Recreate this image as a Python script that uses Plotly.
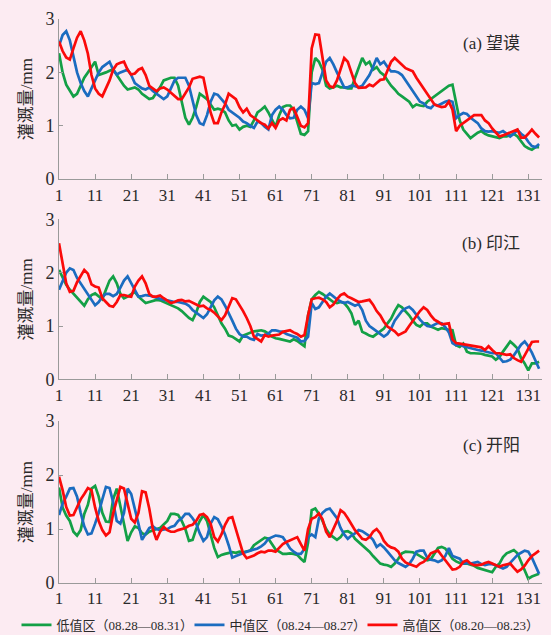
import plotly.graph_objects as go
from plotly.subplots import make_subplots

days = list(range(1, 135))
tick_vals = [1, 11, 21, 31, 41, 51, 61, 71, 81, 91, 101, 111, 121, 131]
tick_text = [str(v) for v in tick_vals]

series_names = ["低值区（08.28—08.31）", "中值区（08.24—08.27）", "高值区（08.20—08.23）"]
series_colors = ["#13a046", "#1b6cc0", "#fb0a0a"]
panel_labels = ["(a) 望谟", "(b) 印江", "(c) 开阳"]
y_title = "灌溉量/mm"

# ---- (a) 望谟 ----
a_low = [2.36, 2.0, 1.77, 1.65, 1.55, 1.6, 1.75, 1.9, 2.0, 2.1,
         2.2, 1.95, 1.97, 2.0, 2.03, 2.06, 1.95, 1.85, 1.75, 1.68,
         1.7, 1.72, 1.68, 1.6, 1.55, 1.5, 1.52, 1.62, 1.72, 1.85,
         1.88, 1.9, 1.9, 1.75, 1.45, 1.15, 1.02, 1.15, 1.35, 1.6,
         1.55, 1.5, 1.4, 1.3, 1.32, 1.3, 1.25, 1.1, 1.0, 1.02,
         0.93, 0.98, 1.0, 0.98, 1.1, 1.25, 1.3, 1.36, 1.25, 1.1,
         0.98, 1.2, 1.35, 1.38, 1.38, 1.3, 1.05, 0.85, 0.83, 0.9,
         2.0, 2.27, 2.2, 2.05, 1.75, 1.7, 1.72, 1.75, 1.72, 1.72,
         1.7, 1.7, 1.9, 2.1, 2.27, 2.15, 2.2, 2.05, 2.1, 2.0,
         1.95, 1.85, 1.75, 1.68, 1.6, 1.55, 1.5, 1.45, 1.35, 1.4,
         1.38, 1.37, 1.45, 1.5, 1.55, 1.6, 1.65, 1.7, 1.75, 1.77,
         1.4, 1.1, 0.93, 0.85, 0.77, 0.82, 0.87, 0.9, 0.85, 0.82,
         0.8, 0.78, 0.77, 0.8, 0.8, 0.82, 0.85, 0.8, 0.7, 0.62,
         0.58, 0.55, 0.6, 0.6]
a_mid = [2.5, 2.7, 2.77, 2.6, 2.3, 2.0, 1.8, 1.65, 1.55, 1.7,
         1.85, 2.0, 2.1, 2.15, 2.2, 2.05, 1.96, 2.0, 2.02, 2.05,
         1.95, 1.8, 1.75, 1.7, 1.68, 1.72, 1.65, 1.6, 1.55, 1.5,
         1.55, 1.7, 1.85, 1.9, 1.9, 1.9, 1.75, 1.45, 1.2, 1.05,
         1.02, 1.2, 1.45, 1.6, 1.58, 1.5, 1.42, 1.3, 1.25, 1.2,
         1.15, 1.08, 1.05, 1.0, 0.96, 1.08, 1.05, 0.98, 0.93, 1.2,
         1.3, 1.36, 1.3, 1.2, 1.14, 1.15, 1.3, 1.36, 1.3, 1.14,
         1.8, 1.78, 1.8, 2.0, 2.2, 2.27, 2.15, 2.0, 1.85, 1.72,
         1.72, 1.75, 1.74, 1.72, 1.75, 1.85, 1.95, 2.1, 2.27, 2.15,
         2.2, 2.1, 2.02, 2.02, 2.0, 1.95, 1.85, 1.75, 1.65, 1.55,
         1.45, 1.42, 1.35, 1.33, 1.4, 1.38, 1.42, 1.45, 1.47, 1.45,
         1.14, 1.2, 1.24, 1.22, 1.15, 1.1, 1.05, 0.95, 0.9, 0.89,
         0.9, 0.88, 0.87, 0.9, 0.85, 0.8, 0.85, 0.92, 0.85, 0.8,
         0.7, 0.62, 0.6, 0.66]
a_high = [2.58, 2.4, 2.28, 2.24, 2.45, 2.65, 2.77, 2.6, 2.35, 1.95,
          1.7, 1.6, 1.55, 1.7, 1.85, 2.05, 2.15, 2.18, 2.2, 2.05,
          1.96, 1.98, 2.05, 2.08, 1.95, 1.75, 1.7, 1.65, 1.7, 1.72,
          1.68, 1.62, 1.55, 1.5, 1.5, 1.6, 1.72, 1.88, 1.9, 1.92,
          1.9, 1.6, 1.25, 1.05, 1.05, 1.25, 1.4, 1.6, 1.55, 1.5,
          1.35, 1.25, 1.32, 1.2, 1.15, 1.1, 1.05, 1.02, 0.95, 1.05,
          0.96, 1.1, 1.14, 1.1, 1.3, 1.33, 1.15, 1.0, 0.97, 1.05,
          2.45, 2.71, 2.7, 2.3, 1.85, 1.74, 1.72, 1.85, 2.05, 2.27,
          2.2, 2.0, 1.8, 1.71, 1.71, 1.72, 1.77, 1.74, 1.8, 1.86,
          1.87, 2.05, 2.2, 2.27, 2.2, 2.15, 2.08, 2.05, 2.02, 1.9,
          1.8, 1.72, 1.6, 1.5, 1.4, 1.37, 1.35, 1.36, 1.45, 1.3,
          0.9, 1.0, 1.05, 1.1, 1.15, 1.2, 1.2, 1.2, 1.1, 1.05,
          0.95, 0.88, 0.8, 0.82, 0.85, 0.87, 0.9, 0.93, 0.78, 0.78,
          0.85, 0.93, 0.85, 0.78]

# ---- (b) 印江 ----
b_low = [2.05, 1.9, 1.77, 1.68, 1.6, 1.52, 1.45, 1.38, 1.5, 1.58,
         1.61, 1.55, 1.5, 1.68, 1.85, 1.93, 1.8, 1.6, 1.52, 1.55,
         1.6, 1.64, 1.55, 1.48, 1.43, 1.45, 1.47, 1.49, 1.48, 1.45,
         1.42, 1.38, 1.36, 1.33, 1.28, 1.22, 1.15, 1.11, 1.25, 1.45,
         1.55, 1.5, 1.45, 1.35, 1.2, 1.05, 0.95, 0.82, 0.8, 0.75,
         0.71, 0.82, 0.85, 0.88, 0.9, 0.91, 0.92, 0.9, 0.86, 0.8,
         0.77, 0.76, 0.74, 0.72, 0.71, 0.75, 0.72, 0.67, 0.62, 1.2,
         1.5, 1.58, 1.64, 1.6, 1.55, 1.49, 1.45, 1.43, 1.45, 1.43,
         1.35, 1.24, 1.02, 1.1, 0.89, 0.86, 0.82, 0.8, 0.85, 0.89,
         0.95, 1.05, 1.14, 1.28, 1.39, 1.35, 1.28, 1.2, 1.1, 1.02,
         0.99, 1.05, 1.05, 0.99, 0.96, 0.93, 0.96, 0.94, 0.93, 0.92,
         0.64, 0.61, 0.67, 0.52, 0.49, 0.49, 0.49, 0.48, 0.46, 0.44,
         0.43, 0.37, 0.42, 0.52, 0.62, 0.71, 0.65, 0.58, 0.4, 0.3,
         0.17, 0.3, 0.3, 0.33]
b_mid = [1.68, 1.85, 2.0, 2.08, 2.05, 1.9, 1.8, 1.7, 1.6, 1.5,
         1.39, 1.45, 1.55, 1.6, 1.6, 1.56, 1.6, 1.72, 1.85, 1.93,
         1.8, 1.65, 1.55, 1.56, 1.58, 1.57, 1.55, 1.52, 1.5, 1.49,
         1.48, 1.46, 1.45, 1.45, 1.43, 1.42, 1.38, 1.3, 1.25, 1.2,
         1.15, 1.22, 1.35, 1.48, 1.55, 1.5, 1.38, 1.25, 1.1, 0.95,
         0.85, 0.8, 0.8, 0.76, 0.74, 0.85, 0.82, 0.83, 0.86, 0.92,
         0.92, 0.9, 0.89, 0.85, 0.83, 0.81, 0.78, 0.71, 0.72, 0.8,
         1.43, 1.32, 1.35, 1.45, 1.55, 1.61, 1.55, 1.5, 1.46, 1.43,
         1.45, 1.42, 1.38, 1.41, 1.3, 1.1, 1.0, 0.95, 0.9, 0.84,
         0.8, 0.85, 0.95, 1.1, 1.2, 1.28, 1.33, 1.36, 1.3, 1.2,
         1.12, 1.05, 1.0, 0.99, 1.02, 1.06, 1.05, 0.98, 0.88, 0.68,
         0.64, 0.66, 0.62, 0.6, 0.58, 0.57, 0.55, 0.54, 0.52, 0.5,
         0.49, 0.49, 0.4, 0.33, 0.34, 0.37, 0.45, 0.55, 0.65, 0.71,
         0.62, 0.5, 0.35, 0.2]
b_high = [2.55, 2.2, 1.8, 1.64, 1.66, 1.82, 1.93, 2.05, 1.98, 1.78,
          1.74, 1.72, 1.52, 1.45, 1.38, 1.36, 1.45, 1.58, 1.58, 1.56,
          1.55, 1.74, 1.85, 1.93, 1.8, 1.6, 1.55, 1.55, 1.57, 1.52,
          1.48, 1.43, 1.45, 1.48, 1.49, 1.46, 1.47, 1.44, 1.4, 1.37,
          1.38, 1.33, 1.3, 1.25, 1.18, 1.11, 1.2, 1.35, 1.52, 1.5,
          1.4, 1.28, 1.15, 1.0, 0.8, 0.75, 0.71, 0.83, 0.8, 0.82,
          0.83, 0.84, 0.89, 0.9, 0.92, 0.88, 0.85, 0.8, 0.83, 1.2,
          1.5, 1.52, 1.53, 1.5, 1.45, 1.35, 1.4, 1.5, 1.58, 1.61,
          1.55, 1.52, 1.49, 1.45, 1.46, 1.48, 1.49, 1.4, 1.28, 1.2,
          1.08, 0.99, 0.95, 0.9, 0.83, 0.86, 0.9, 1.0, 1.1, 1.2,
          1.28, 1.35, 1.3, 1.2, 1.12, 1.08, 1.03, 1.04, 1.05, 0.75,
          0.68, 0.67, 0.66, 0.64, 0.63, 0.63, 0.62, 0.6, 0.55, 0.62,
          0.55, 0.49, 0.49, 0.48, 0.46, 0.47, 0.4, 0.36, 0.33, 0.45,
          0.58, 0.7, 0.71, 0.71]

# ---- (c) 开阳 ----
c_low = [1.77, 1.4, 1.25, 1.15, 0.95, 0.88, 0.98, 1.28, 1.45, 1.75,
         1.8, 1.6, 1.3, 1.14, 1.13, 1.55, 1.75, 1.45, 1.1, 0.78,
         0.94, 1.05, 1.02, 0.92, 0.9, 0.95, 0.98, 1.0, 1.02, 1.08,
         1.15, 1.28, 1.28, 1.26, 1.15, 1.0, 0.78, 0.8, 1.0, 1.15,
         1.26, 1.15, 0.9, 0.65, 0.48, 0.52, 0.54, 0.55, 0.57, 0.56,
         0.58, 0.57, 0.58, 0.6, 0.7, 0.75, 0.8, 0.84, 0.82, 0.72,
         0.62, 0.58, 0.54, 0.54, 0.55, 0.54, 0.52, 0.45, 0.39, 0.75,
         1.35, 1.38, 1.28, 1.15, 1.0, 0.9, 0.85, 0.8, 0.85, 0.95,
         0.96, 0.92, 0.82, 0.76, 0.7, 0.65, 0.58, 0.5, 0.42, 0.36,
         0.34, 0.33, 0.3, 0.36, 0.45, 0.55, 0.58, 0.58, 0.57, 0.54,
         0.5, 0.45, 0.42, 0.44, 0.55, 0.65, 0.67, 0.64, 0.55, 0.45,
         0.4, 0.37, 0.36, 0.36, 0.34, 0.32, 0.28, 0.26, 0.25, 0.22,
         0.2, 0.3, 0.36, 0.48, 0.55, 0.58, 0.61, 0.55, 0.4, 0.24,
         0.08, 0.12, 0.15, 0.17]
c_mid = [1.26, 1.47, 1.6, 1.75, 1.76, 1.6, 1.3, 1.05, 0.9, 0.92,
         1.1, 1.3, 1.55, 1.78, 1.76, 1.5, 1.15, 1.1, 1.3, 1.75,
         1.65, 1.4, 1.1, 0.8, 0.9, 1.02, 1.05, 1.0, 0.98, 0.99,
         1.0, 1.04, 1.06, 1.15, 1.2, 1.28, 1.28, 1.2, 1.1, 0.92,
         0.78, 0.85, 1.1, 1.22, 1.18, 1.05, 0.9, 0.7, 0.47, 0.5,
         0.53, 0.56, 0.58, 0.6, 0.62, 0.64, 0.68, 0.73, 0.82, 0.85,
         0.88, 0.87, 0.85, 0.75, 0.64, 0.58, 0.54, 0.54, 0.63, 0.85,
         0.9, 0.85, 1.2, 1.3, 1.36, 1.38, 1.3, 1.2, 1.02, 0.9,
         0.82, 0.88, 0.92, 0.98, 0.96, 0.92, 0.87, 0.8, 0.67, 0.72,
         0.66, 0.58, 0.5, 0.42, 0.37, 0.33, 0.3, 0.35, 0.45, 0.58,
         0.6, 0.6, 0.47, 0.43, 0.42, 0.39, 0.42, 0.5, 0.65, 0.5,
         0.48, 0.45, 0.36, 0.37, 0.36, 0.38, 0.39, 0.35, 0.33, 0.35,
         0.35, 0.33, 0.3, 0.27, 0.3, 0.38, 0.46, 0.52, 0.56, 0.6,
         0.58, 0.47, 0.32, 0.17]
c_high = [1.97, 1.72, 1.41, 1.25, 1.26, 1.4, 1.55, 1.65, 1.76, 1.72,
          1.4, 1.15, 0.98, 0.88, 0.94, 1.29, 1.55, 1.78, 1.75, 1.45,
          1.19, 1.12, 1.3, 1.7, 1.68, 1.38, 1.0, 0.8, 0.95, 1.04,
          0.98, 0.95, 0.95, 0.98, 1.0, 1.02, 1.06, 1.08, 1.15, 1.26,
          1.28, 1.22, 1.1, 0.85, 0.77, 0.9, 1.08, 1.2, 1.22, 1.0,
          0.8, 0.55, 0.46, 0.48, 0.51, 0.55, 0.58, 0.57, 0.6, 0.6,
          0.58, 0.65, 0.72, 0.76, 0.79, 0.82, 0.85, 0.72, 0.6, 1.0,
          1.19, 1.22, 1.29, 1.18, 0.95, 0.85, 1.0, 1.15, 1.35, 1.3,
          1.2, 1.08, 0.98, 0.9, 0.82, 0.8, 0.85, 0.95, 1.0, 0.92,
          0.78, 0.7, 0.66, 0.64, 0.58, 0.45, 0.38, 0.35, 0.32, 0.3,
          0.36, 0.39, 0.45, 0.55, 0.58, 0.6, 0.51, 0.42, 0.35, 0.25,
          0.26, 0.3, 0.39, 0.42, 0.36, 0.33, 0.33, 0.34, 0.37, 0.39,
          0.36, 0.33, 0.3, 0.33, 0.35, 0.36, 0.28, 0.21, 0.25, 0.32,
          0.42, 0.5, 0.55, 0.6]

panels = [
    (a_low, a_mid, a_high),
    (b_low, b_mid, b_high),
    (c_low, c_mid, c_high),
]

BG = "#fcebf2"
AXIS = "#9a9a9a"
TXT = "#2a2a2a"
SERIF = "Liberation Serif, Noto Sans CJK SC, serif"

fig = make_subplots(rows=3, cols=1)

for r, series in enumerate(panels, start=1):
    for i, vals in enumerate(series):
        fig.add_trace(
            go.Scatter(
                x=days[:len(vals)], y=vals, mode="lines",
                name=series_names[i],
                line=dict(color=series_colors[i], width=2.7),
                showlegend=(r == 1),
                legendgroup=series_names[i],
            ),
            row=r, col=1,
        )

domains = [[0.716, 1.0], [0.361, 0.645], [0.0, 0.287]]
for r in range(1, 4):
    xa = "xaxis" if r == 1 else f"xaxis{r}"
    ya = "yaxis" if r == 1 else f"yaxis{r}"
    fig.layout[xa].update(
        range=[1, 134.8], tickmode="array", tickvals=tick_vals, ticktext=tick_text,
        ticks="inside", ticklen=5, tickcolor=AXIS, showline=True, linecolor=AXIS,
        linewidth=1, showgrid=False, zeroline=False, automargin=False,
        tickfont=dict(family=SERIF, size=17, color=TXT),
    )
    fig.layout[ya].update(
        domain=domains[r - 1], range=[0, 3], tickmode="array",
        tickvals=[0, 1, 2, 3], ticktext=["0", "1", "2", "3"],
        ticks="inside", ticklen=4, tickcolor=AXIS, showline=True, linecolor=AXIS,
        linewidth=1, showgrid=False, zeroline=False, automargin=False,
        tickfont=dict(family=SERIF, size=18, color=TXT),
        title=dict(text=y_title, font=dict(family=SERIF, size=17, color=TXT), standoff=8),
    )
    fig.add_annotation(
        text=panel_labels[r - 1], xref=f"x{'' if r == 1 else r} domain",
        yref=f"y{'' if r == 1 else r}", x=0.958, y=2.55,
        xanchor="right", yanchor="middle", showarrow=False,
        font=dict(family=SERIF, size=17, color=TXT),
    )

fig.update_layout(
    width=551, height=635,
    margin=dict(l=59, r=9, t=19, b=52, autoexpand=False),
    paper_bgcolor=BG, plot_bgcolor=BG,
    showlegend=True,
    legend=dict(
        orientation="h", x=-0.088, xanchor="left", y=-0.0745, yanchor="middle",
        font=dict(family=SERIF, size=13, color=TXT),
        bgcolor="rgba(0,0,0,0)", entrywidth=128, entrywidthmode="pixels",
        tracegroupgap=0,
    ),
)

fig.write_html(
    "out.html",
    config={"displayModeBar": False},
    post_script="document.body.style.margin='0';document.body.style.background='" + BG + "';",
)
